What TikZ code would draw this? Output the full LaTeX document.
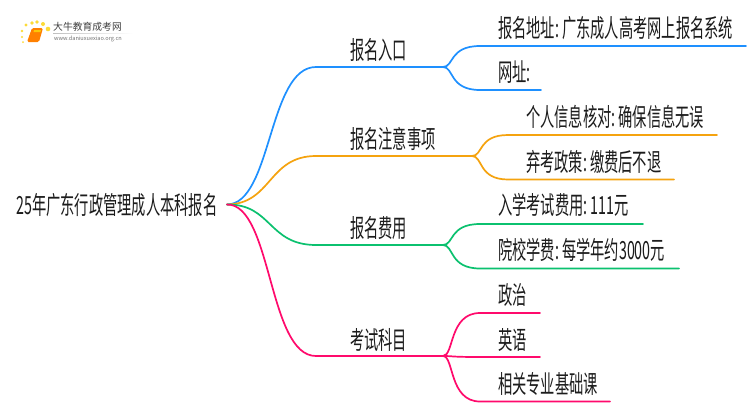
\documentclass[tikz,border=0pt]{standalone}
\usepackage{xcolor}
\usepackage{fontspec}
\setmainfont[FakeStretch=0.57, WordSpace=0.6]{Noto Sans CJK SC}
\newfontfamily\logofont{Noto Sans CJK SC}
\definecolor{EntryBlue}{HTML}{1E90FF}
\definecolor{NoteOrange}{HTML}{F5A30F}
\definecolor{FeeGreen}{HTML}{0BC16F}
\definecolor{ExamPink}{HTML}{FF0A6C}
\definecolor{TextGrey}{HTML}{1C1C1C}
\begin{document}
\begin{tikzpicture}
[x=1pt, y=-1pt,
 RootNode/.style={anchor=base west, inner sep=0pt, text=TextGrey,
    font=\fontsize{25}{25}\selectfont},
 L1Node/.style={RootNode},
 L2Node/.style={RootNode},
 Branch/.style={line width=1.7pt, line cap=round}]
\useasboundingbox (0,0) rectangle (750,410);

\fill[white] (0,0) rectangle (750,410);

% logo
\foreach \x/\y/\r in {26/25/1.7, 32/23/1.9, 37/22/1.9, 43/24/2, 48/29/2.3, 22/31/1.4, 22/37/1.2, 23/42/1}
    \fill[yellow!70!orange, opacity=.8] (\x,\y) circle (\r);
\fill[orange, rounded corners=1.5pt] (32,28) -- (43,28) -- (39,42) -- (27,42) -- cycle;
\fill[yellow!60!orange] (34,30) -- (41,30) -- (40.5,32) -- (33.5,32) -- cycle;
\node[anchor=west, inner sep=0pt, text=black!75, font=\logofont\fontsize{9.8}{10}\selectfont] (logoname) at (53,27) {大牛教育成考网};
\node[anchor=west, inner sep=0pt, text=black!55, font=\logofont\fontsize{5.6}{6}\selectfont] (logourl) at (54,39) {www.daniuxuexiao.org.cn};
\shade[left color=black!25, right color=white] (53,33) rectangle (133,33.6);

\node[RootNode] (root) at (16,214) {25年广东行政管理成人本科报名};
\coordinate (root_e) at (227,204.5);

\node[L1Node] (entry) at (350,59) {报名入口};
\node[L1Node] (note) at (350,148) {报名注意事项};
\node[L1Node] (fee) at (350,237) {报名费用};
\node[L1Node] (exam) at (350,349) {考试科目};

\node[L2Node] (entry1) at (498,37) {报名地址: 广东成人高考网上报名系统};
\node[L2Node] (entry2) at (498,81) {网址:};
\node[L2Node] (note1) at (526,126) {个人信息核对: 确保信息无误};
\node[L2Node] (note2) at (526,171) {弃考政策: 缴费后不退};
\node[L2Node] (fee1) at (498,214) {入学考试费用: 111元};
\node[L2Node] (fee2) at (498,259) {院校学费: 每学年约3000元};
\node[L2Node] (exam1) at (498,304) {政治};
\node[L2Node] (exam2) at (498,349) {英语};
\node[L2Node] (exam3) at (498,393) {相关专业基础课};

\coordinate (entry_s) at (316,67);
\coordinate (entry_e) at (443,67);
\coordinate (note_s) at (316,156);
\coordinate (note_e) at (472,156);
\coordinate (fee_s) at (316,245);
\coordinate (fee_e) at (443,245);
\coordinate (exam_s) at (316,356);
\coordinate (exam_e) at (443,356);

\coordinate (entry1_s) at (480,46);
\coordinate (entry1_e) at (746,46);
\coordinate (entry2_s) at (480,90);
\coordinate (entry2_e) at (541,90);
\coordinate (note1_s) at (508,135);
\coordinate (note1_e) at (717,135);
\coordinate (note2_s) at (508,179.5);
\coordinate (note2_e) at (674,179.5);
\coordinate (fee1_s) at (480,224);
\coordinate (fee1_e) at (643,224);
\coordinate (fee2_s) at (480,268.5);
\coordinate (fee2_e) at (679,268.5);
\coordinate (exam1_s) at (480,313);
\coordinate (exam1_e) at (540,313);
\coordinate (exam2_s) at (480,357);
\coordinate (exam2_e) at (540,357);
\coordinate (exam3_s) at (480,401.5);
\coordinate (exam3_e) at (610,401.5);

\draw[Branch, EntryBlue] (root_e) .. controls (272,204) and (268,67) .. (entry_s) -- (entry_e);
\draw[Branch, NoteOrange] (root_e) .. controls (272,204) and (268,156) .. (note_s) -- (note_e);
\draw[Branch, FeeGreen] (root_e) .. controls (272,204) and (268,245) .. (fee_s) -- (fee_e);
\draw[Branch, ExamPink] (root_e) .. controls (272,204) and (268,356) .. (exam_s) -- (exam_e);

\foreach \a in {entry1, entry2}
    \draw[Branch, EntryBlue] (entry_e) .. controls (454,67) and (460,0,|-\a_s) .. (\a_s) -- (\a_e);
\foreach \a in {note1, note2}
    \draw[Branch, NoteOrange] (note_e) .. controls (483,156) and (489,0,|-\a_s) .. (\a_s) -- (\a_e);
\foreach \a in {fee1, fee2}
    \draw[Branch, FeeGreen] (fee_e) .. controls (454,245) and (460,0,|-\a_s) .. (\a_s) -- (\a_e);
\foreach \a in {exam1, exam2, exam3}
    \draw[Branch, ExamPink] (exam_e) .. controls (454,356) and (460,0,|-\a_s) .. (\a_s) -- (\a_e);
\end{tikzpicture}
\end{document}
